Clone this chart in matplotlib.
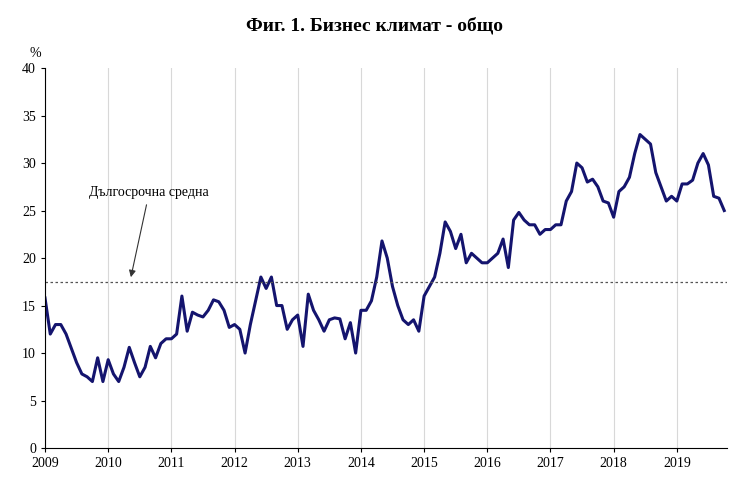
import matplotlib
matplotlib.use("Agg")
import matplotlib.pyplot as plt
import numpy as np

values = [
 15.8, 12, 13, 13, 12, 10.5, 9, 7.8, 7.5, 7, 9.5, 7,
 9.3, 7.8, 7, 8.5, 10.6, 9, 7.5, 8.5, 10.7, 9.5, 11, 11.5,
 11.5, 12, 16, 12.3, 14.3, 14, 13.8, 14.5, 15.6, 15.4, 14.5, 12.7,
 13, 12.5, 10, 13, 15.5, 18, 16.8, 18, 15, 15, 12.5, 13.5,
 14, 10.7, 16.2, 14.5, 13.5, 12.3, 13.5, 13.7, 13.6, 11.5, 13.2, 10,
 14.5, 14.5, 15.5, 18, 21.8, 20, 17, 15, 13.5, 13, 13.5, 12.3,
 16, 17, 18, 20.5, 23.8, 22.8, 21, 22.5, 19.5, 20.5, 20, 19.5,
 19.5, 20, 20.5, 22, 19, 24, 24.8, 24, 23.5, 23.5, 22.5, 23,
 23, 23.5, 23.5, 26, 27, 30, 29.5, 28, 28.3, 27.5, 26, 25.8,
 24.3, 27, 27.5, 28.5, 31, 33, 32.5, 32, 29, 27.5, 26, 26.5,
 26, 27.8, 27.8, 28.2, 30, 31, 29.8, 26.5, 26.3, 25,
]
long_term_mean = 17.5
years = list(range(2009, 2020))
x = 2009 + np.arange(len(values)) / 12

plt.rcParams['font.family'] = ['Liberation Serif', 'DejaVu Serif']
fig = plt.figure(figsize=(7.5, 5.04), dpi=100)
ax = fig.add_axes([0.06, 0.111, 0.909, 0.754])
ax.plot(x, values, color='#14146e', lw=2.2)
ax.axhline(long_term_mean, color='#555555', lw=0.9, ls=(0, (2, 2)))
ax.set_xlim(2009, 2019.79)
ax.set_ylim(0, 40)
ax.set_yticks(range(0, 41, 5))
ax.set_xticks(years)
ax.grid(axis='x', color='#d8d8d8', lw=0.8)
for s in ['top', 'right']:
    ax.spines[s].set_visible(False)
ax.tick_params(labelsize=10, length=3)
ax.text(-0.005, 1.03, '%', transform=ax.transAxes, fontsize=10, ha='right')
fig.text(0.5, 0.94, 'Фиг. 1. Бизнес климат - общо', ha='center', fontsize=14, fontweight='bold')
ax.annotate('Дългосрочна средна', xy=(2010.35, long_term_mean + 0.2),
            xytext=(2009.7, 26.5), fontsize=10,
            arrowprops=dict(arrowstyle='-|>', color='#333333', lw=0.8))
fig.savefig('out.png', dpi=100)
